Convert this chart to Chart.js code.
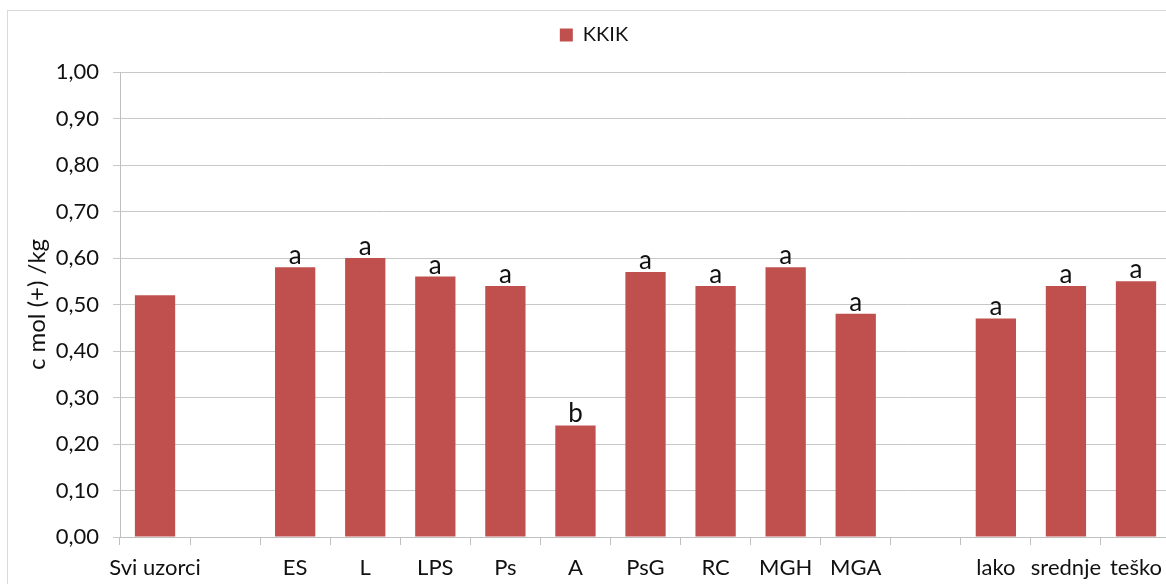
<!DOCTYPE html>
<html>
<head>
<meta charset="utf-8">
<script src="https://cdn.jsdelivr.net/npm/chart.js@4/dist/chart.umd.min.js"></script>
<style>
  html, body { margin: 0; padding: 0; background: #fff; overflow: hidden; }
  #wrap { width: 1172px; height: 584px; }
</style>
</head>
<body>
<div id="wrap"><canvas id="chart" width="1172" height="584"></canvas></div>
<script>
// categories along the x axis ('' = empty spacer slot)
const categories = ['Svi uzorci', '', 'ES', 'L', 'LPS', 'Ps', 'A', 'PsG', 'RC', 'MGH', 'MGA', '', 'lako', 'srednje', 'teško'];
// KKIK values, c mol (+) /kg
const kkik = [0.52, null, 0.58, 0.60, 0.56, 0.54, 0.24, 0.57, 0.54, 0.58, 0.48, null, 0.47, 0.54, 0.55];
// significance letters above bars
const letters = ['', '', 'a', 'a', 'a', 'a', 'b', 'a', 'a', 'a', 'a', '', 'a', 'a', 'a'];
const yTicks = [0, 0.1, 0.2, 0.3, 0.4, 0.5, 0.6, 0.7, 0.8, 0.9, 1.0];

const FONT = 'Lato, "Open Sans", sans-serif';
const TEXT = '#111';

const frame = {
  id: 'frame',
  beforeDraw(chart) {
    const c = chart.ctx;
    c.save();
    c.fillStyle = '#fff';
    c.fillRect(0, 0, chart.width, chart.height);
    c.strokeStyle = '#d9d9d9';
    c.lineWidth = 1;
    c.strokeRect(7.5, 10.5, chart.width + 10, chart.height + 10);
    c.restore();
  }
};

// leave a gap between the legend and the plot
const legendGap = {
  id: 'legendGap',
  beforeInit(chart) {
    const legend = chart.legend;
    if (!legend) return;
    const fit = legend.fit;
    legend.fit = function() {
      fit.call(this);
      this.height += 17;
    };
  }
};

const letterLabels = {
  id: 'letterLabels',
  afterDatasetsDraw(chart) {
    const c = chart.ctx;
    const meta = chart.getDatasetMeta(0);
    c.save();
    c.font = '26px ' + FONT;
    c.fillStyle = TEXT;
    c.textAlign = 'center';
    c.textBaseline = 'alphabetic';
    meta.data.forEach((bar, i) => {
      if (!letters[i] || kkik[i] == null) return;
      c.fillText(letters[i], bar.x, bar.y - 3);
    });
    c.restore();
  }
};

new Chart(document.getElementById('chart'), {
  type: 'bar',
  data: {
    labels: categories,
    datasets: [{
      label: 'KKIK',
      data: kkik,
      backgroundColor: '#C0504D',
      borderWidth: 0,
      categoryPercentage: 1,
      barPercentage: 0.575
    }]
  },
  options: {
    responsive: false,
    animation: false,
    layout: { padding: { top: 15, left: 16, right: 0, bottom: 0 } },
    plugins: {
      legend: {
        display: true,
        position: 'top',
        labels: {
          color: TEXT,
          font: { family: FONT, size: 20 },
          boxWidth: 13,
          boxHeight: 13,
          padding: 10
        }
      },
      tooltip: { enabled: false }
    },
    scales: {
      x: {
        offset: true,
        grid: {
          offset: true,
          drawOnChartArea: false,
          drawTicks: true,
          tickLength: 8,
          color: '#bfbfbf'
        },
        border: { display: true, color: '#bfbfbf' },
        ticks: {
          color: TEXT,
          font: { family: FONT, size: 22 },
          padding: 10,
          maxRotation: 0,
          autoSkip: false
        },
        afterFit(scale) { scale.height = 47; }
      },
      y: {
        min: 0,
        max: 1,
        afterBuildTicks(scale) { scale.ticks = yTicks.map(v => ({ value: v })); },
        grid: {
          color: '#c8c8c8',
          tickLength: 7
        },
        border: { display: true, color: '#bfbfbf' },
        ticks: {
          color: TEXT,
          font: { family: FONT, size: 22 },
          padding: 14,
          callback: v => Number(v).toFixed(2).replace('.', ',')
        },
        title: {
          display: true,
          text: 'c mol (+) /kg',
          color: TEXT,
          font: { family: FONT, size: 24 },
          padding: { top: 7, bottom: 0 }
        },
        afterFit(scale) { scale.width = 104; }
      }
    }
  },
  plugins: [frame, legendGap, letterLabels]
});
</script>
</body>
</html>
